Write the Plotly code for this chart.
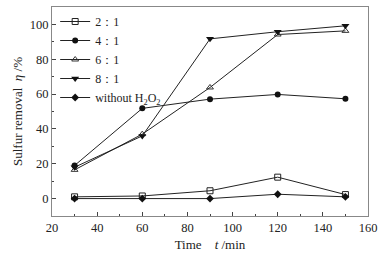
import plotly.graph_objects as go

time_min = [30, 60, 90, 120, 150]
r_2_1 = [1.0, 1.5, 4.5, 12.3, 2.3]
r_4_1 = [19.0, 51.8, 57.1, 59.8, 57.3]
r_6_1 = [16.5, 37.0, 63.8, 94.2, 96.3]
r_8_1 = [18.0, 36.0, 91.7, 95.8, 99.2]
r_none = [0.0, 0.0, 0.0, 2.5, 1.0]

series = [
    ("2：1", r_2_1, dict(symbol="square-open", size=6, color="#222")),
    ("4：1", r_4_1, dict(symbol="circle", size=6, color="#111")),
    ("6：1", r_6_1, dict(symbol="triangle-up-open", size=6, color="#333")),
    ("8：1", r_8_1, dict(symbol="triangle-down", size=7, color="#111")),
    ("without H<sub>2</sub>O<sub>2</sub>", r_none, dict(symbol="diamond", size=6, color="#111")),
]

fig = go.Figure()
for name, ys, mk in series:
    fig.add_trace(go.Scatter(
        x=time_min, y=ys, name=name, mode="lines+markers",
        line=dict(color="#222", width=1), marker=mk,
    ))

FAM = "Times New Roman, Liberation Serif, serif"
font = dict(family=FAM, size=12, color="#222")
fig.update_layout(
    width=392, height=258,
    margin=dict(l=52, r=24, t=7, b=42),
    paper_bgcolor="white", plot_bgcolor="white",
    font=font,
    showlegend=True,
    legend=dict(x=0.01, y=1.0, xanchor="left", yanchor="top",
                bgcolor="rgba(0,0,0,0)", font=dict(family=FAM, size=12, color="#222"),
                tracegroupgap=0, itemwidth=30),
    xaxis=dict(range=[20, 160], dtick=20, tick0=20, ticks="inside", ticklen=4,
               tickcolor="#444", showline=True, linecolor="#888", mirror=True,
               showgrid=False, zeroline=False, automargin=False,
               tickfont=dict(family=FAM, size=12.5),
               minor=dict(ticks="inside", dtick=10, ticklen=2, tickcolor="#444"),
               title=dict(text="Time    <i>t</i> /min", standoff=5,
                          font=dict(family=FAM, size=13))),
    yaxis=dict(range=[-10, 110], dtick=20, tick0=0, ticks="inside", ticklen=4,
               tickcolor="#444", showline=True, linecolor="#888", mirror=True,
               showgrid=False, zeroline=False, automargin=False,
               tickfont=dict(family=FAM, size=12.5),
               minor=dict(ticks="inside", dtick=10, ticklen=2, tickcolor="#444"),
               title=dict(text="Sulfur removal  <i>η</i> /%", standoff=4,
                          font=dict(family=FAM, size=13))),
)
fig.write_html("out.html", config={"displayModeBar": False},
               post_script="document.body.style.margin='0';document.body.style.overflow='hidden';")
